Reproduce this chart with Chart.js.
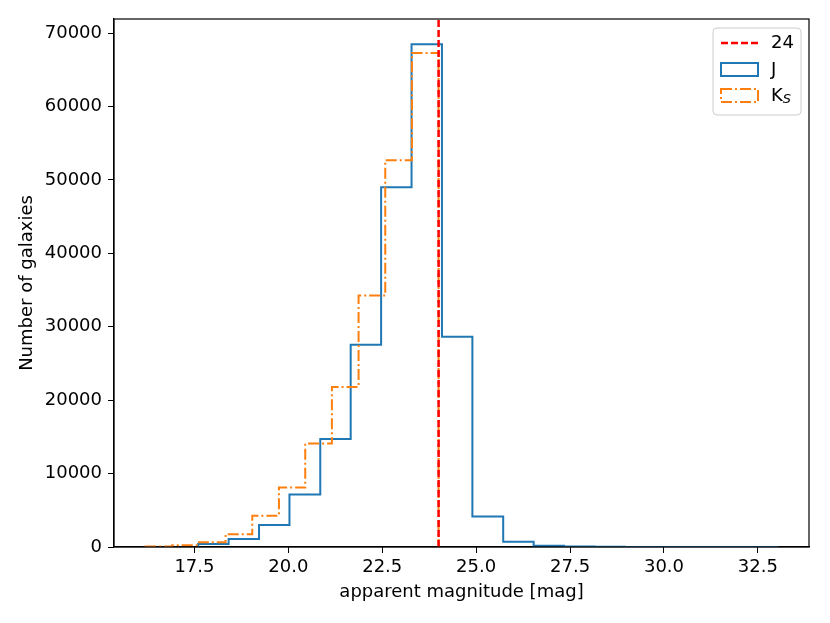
<!DOCTYPE html>
<html>
<head>
<meta charset="utf-8">
<script src="https://cdn.jsdelivr.net/npm/chart.js@4.4.1/dist/chart.umd.min.js"></script>
<style>
  body { margin: 0; background: #fff; }
  #wrap { width: 830px; height: 623px; position: relative; }
</style>
</head>
<body>
<div id="wrap"><canvas id="histChart"></canvas></div>
<script>
// Bin edges and counts
const jEdges = [17.60, 18.41, 19.22, 20.03, 20.85, 21.66, 22.47, 23.28, 24.09, 24.90,
                25.72, 26.53, 27.34, 28.15, 28.96, 29.77, 30.59, 31.40, 32.21, 33.02];
const jCounts = [400, 1100, 3000, 7150, 14700, 27550, 49000, 68500, 28650, 4150,
                 720, 180, 60, 30, 15, 10, 5, 5, 3];

const ksEdges = [16.20, 16.91, 17.62, 18.33, 19.04, 19.75, 20.45, 21.16, 21.87, 22.58, 23.29, 24.00];
const ksCounts = [60, 250, 650, 1750, 4250, 8100, 14100, 21800, 34250, 52700, 67300];

const cutMag = 24;
const xTicks = [17.5, 20.0, 22.5, 25.0, 27.5, 30.0, 32.5];
const yTicks = [0, 10000, 20000, 30000, 40000, 50000, 60000, 70000];

const fontFamily = '"DejaVu Sans", sans-serif';
const fontSize = 18;

// step outline like matplotlib histtype='step'
function histOutline(edges, counts) {
    const pts = [{ x: edges[0], y: 0 }];
    counts.forEach((c, i) => {
        pts.push({ x: edges[i], y: c });
        pts.push({ x: edges[i + 1], y: c });
    });
    pts.push({ x: edges[edges.length - 1], y: 0 });
    return pts;
}

const lo = Math.min(jEdges[0], ksEdges[0]);
const hi = Math.max(jEdges[jEdges.length - 1], ksEdges[ksEdges.length - 1]);
const xMin = lo - 0.05 * (hi - lo);
const xMax = hi + 0.05 * (hi - lo);
const yMax = Math.max(...jCounts, ...ksCounts) * 1.05;

const frameAndLegend = {
    id: 'frameAndLegend',
    afterDraw(chart) {
        const { ctx, chartArea: a } = chart;
        ctx.save();
        ctx.strokeStyle = '#000';
        ctx.lineWidth = 1.2;
        ctx.strokeRect(a.left, a.top, a.right - a.left, a.bottom - a.top);

        // legend box
        const bx = 713, by = 28, bw = 88, bh = 87, r = 4;
        ctx.beginPath();
        ctx.moveTo(bx + r, by);
        ctx.arcTo(bx + bw, by, bx + bw, by + bh, r);
        ctx.arcTo(bx + bw, by + bh, bx, by + bh, r);
        ctx.arcTo(bx, by + bh, bx, by, r);
        ctx.arcTo(bx, by, bx + bw, by, r);
        ctx.closePath();
        ctx.fillStyle = 'rgba(255,255,255,0.8)';
        ctx.fill();
        ctx.strokeStyle = '#cccccc';
        ctx.lineWidth = 1;
        ctx.stroke();

        // 24 line
        ctx.strokeStyle = '#ff0000';
        ctx.lineWidth = 2.5;
        ctx.setLineDash([7, 3]);
        ctx.beginPath();
        ctx.moveTo(721, 43);
        ctx.lineTo(758, 43);
        ctx.stroke();

        // J patch
        ctx.setLineDash([]);
        ctx.strokeStyle = '#1f77b4';
        ctx.lineWidth = 2;
        ctx.strokeRect(721, 63, 37, 13);

        // Ks patch
        ctx.strokeStyle = '#ff7f0e';
        ctx.setLineDash([11, 3, 2, 3]);
        ctx.strokeRect(721, 89, 37, 13);
        ctx.setLineDash([]);

        ctx.fillStyle = '#000';
        ctx.textBaseline = 'middle';
        ctx.font = fontSize + 'px ' + fontFamily;
        ctx.fillText('24', 771, 43);
        ctx.fillText('J', 771, 70);
        ctx.fillText('K', 771, 96);
        const kw = ctx.measureText('K').width;
        ctx.font = 'italic 13px ' + fontFamily;
        ctx.fillText('S', 771 + kw, 100);
        ctx.restore();
    }
};

new Chart(document.getElementById('histChart'), {
    type: 'line',
    data: {
        datasets: [
            {
                label: '24',
                data: [{ x: cutMag, y: 0 }, { x: cutMag, y: yMax }],
                borderColor: '#ff0000',
                borderWidth: 2.5,
                borderDash: [7, 3],
                pointRadius: 0
            },
            {
                label: 'Ks',
                data: histOutline(ksEdges, ksCounts),
                borderColor: '#ff7f0e',
                borderWidth: 2,
                borderDash: [11, 3, 2, 3],
                pointRadius: 0,
                tension: 0
            },
            {
                label: 'J',
                data: histOutline(jEdges, jCounts),
                borderColor: '#1f77b4',
                borderWidth: 2,
                pointRadius: 0,
                tension: 0
            }
        ]
    },
    options: {
        responsive: true,
        maintainAspectRatio: false,
        animation: false,
        layout: { padding: { left: 0, right: 21, top: 19, bottom: 0 } },
        plugins: {
            legend: { display: false },
            tooltip: { enabled: false }
        },
        scales: {
            x: {
                type: 'linear',
                min: xMin,
                max: xMax,
                afterBuildTicks: scale => { scale.ticks = xTicks.map(v => ({ value: v })); },
                afterFit: scale => { scale.height = 76; },
                ticks: {
                    color: '#000',
                    padding: 4,
                    maxRotation: 0,
                    font: { family: fontFamily, size: fontSize },
                    callback: v => v.toFixed(1)
                },
                grid: { drawOnChartArea: false, drawTicks: true, tickLength: 6, color: '#000' },
                border: { display: true, color: '#000', width: 1.2 },
                title: {
                    display: true,
                    text: 'apparent magnitude [mag]',
                    color: '#000',
                    font: { family: fontFamily, size: fontSize },
                    padding: { top: 0, bottom: 20 }
                }
            },
            y: {
                type: 'linear',
                min: 0,
                max: yMax,
                afterBuildTicks: scale => { scale.ticks = yTicks.map(v => ({ value: v })); },
                afterFit: scale => { scale.width = 114; },
                ticks: {
                    color: '#000',
                    padding: 6,
                    font: { family: fontFamily, size: fontSize },
                    callback: v => String(v)
                },
                grid: { drawOnChartArea: false, drawTicks: true, tickLength: 6, color: '#000' },
                border: { display: true, color: '#000', width: 1.2 },
                title: {
                    display: true,
                    text: 'Number of galaxies',
                    color: '#000',
                    font: { family: fontFamily, size: fontSize },
                    padding: { top: 17, bottom: 0 }
                }
            }
        }
    },
    plugins: [frameAndLegend]
});
</script>
</body>
</html>
